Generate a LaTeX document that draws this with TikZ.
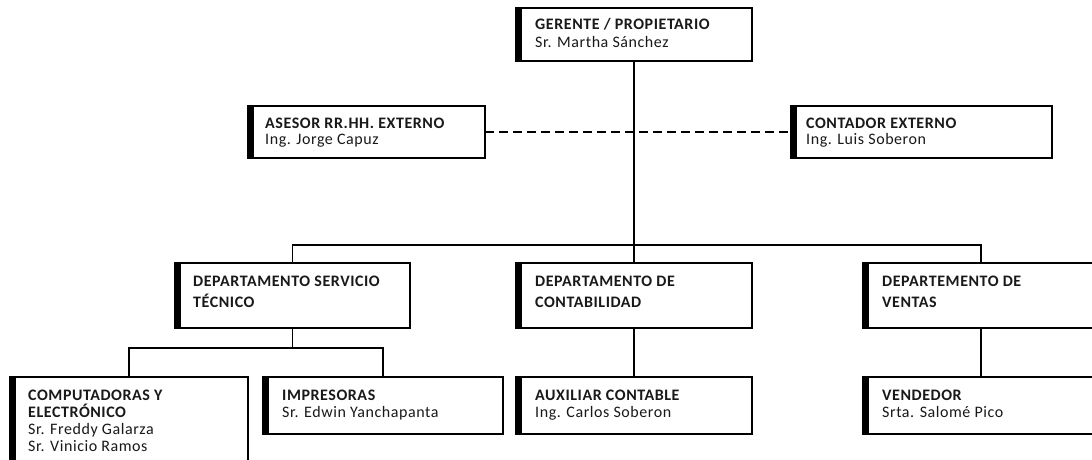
\documentclass[tikz,border=0pt]{standalone}
\usepackage{fontspec}
\setmainfont{Carlito}[LetterSpace=3.5]
% name, left, top, width, height, text inset, first baseline, line skip, lines
\newcommand\orgunit[9]{%
  \node[orgbox, minimum width=#4pt, minimum height=#5pt] (#1) at (#2,#3) {};
  \fill[orgbar] (#1.north west) rectangle ++(5.5,#5);
  \node[orgtxt] (#1-t) at (#2+#6,#3+#7) {\vtop{\baselineskip=#8pt\halign{##\hfil\cr#9\crcr}}};
}
\begin{document}
\begin{tikzpicture}[x=1pt,y=-1pt,
  orgbox/.style={draw=black, line width=1.2pt, fill=white, inner sep=0pt, outer sep=0pt, anchor=north west},
  orgbar/.style={fill=black},
  orgtxt/.style={anchor=base west, inner sep=0pt, text=black!90, font=\fontsize{16}{17}\selectfont},
  link/.style={draw=black, line width=1.2pt},
  extlink/.style={link, dash pattern=on 9pt off 5pt},
]
\useasboundingbox (0,0) rectangle (1092,460);
\fill[white] (0,0) rectangle (1092,460);
\clip (0,0) rectangle (1092,460);

% top level
\orgunit{gerente}{516}{8}{236}{53}{19}{22}{18}{\textbf{GERENTE / PROPIETARIO}\cr Sr. Martha Sánchez}
% external advisors
\orgunit{asesor}{248}{106}{237}{52}{17}{22}{17}{\textbf{ASESOR RR.HH. EXTERNO}\cr Ing. Jorge Capuz}
\orgunit{contador}{791}{106}{261}{52}{15}{22}{17}{\textbf{CONTADOR EXTERNO}\cr Ing. Luis Soberon}
% departments
\orgunit{servicio}{175}{263}{235}{65}{18}{23}{21}{\textbf{DEPARTAMENTO SERVICIO}\cr\textbf{TÉCNICO}}
\orgunit{contab}{516}{263}{236}{65}{19}{23}{21}{\textbf{DEPARTAMENTO DE}\cr\textbf{CONTABILIDAD}}
\orgunit{ventas}{863}{263}{236}{65}{19}{23}{21}{\textbf{DEPARTEMENTO DE}\cr\textbf{VENTAS}}
% staff
\orgunit{comp}{10}{377}{238}{100}{18}{23}{17}{\textbf{COMPUTADORAS Y}\cr\textbf{ELECTRÓNICO}\cr Sr. Freddy Galarza\cr Sr. Vinicio Ramos}
\orgunit{impr}{263}{377}{240}{57}{19}{23}{17}{\textbf{IMPRESORAS}\cr Sr. Edwin Yanchapanta}
\orgunit{aux}{516}{377}{236}{57}{19}{23}{17}{\textbf{AUXILIAR CONTABLE}\cr Ing. Carlos Soberon}
\orgunit{vend}{863}{377}{236}{57}{19}{23}{17}{\textbf{VENDEDOR}\cr Srta. Salomé Pico}

% connectors
\draw[extlink] (asesor.east) -- (contador.west);
\draw[link] (gerente.south) -- (contab.north);
\draw[link] (servicio.north) -- ++(0,-18) -| (ventas.north);
\draw[link] (servicio.south) -- ++(0,20) coordinate (srvbus);
\draw[link] (comp.north) -- ++(0,-29) -| (impr.north);
\draw[link] (contab.south) -- (aux.north);
\draw[link] (ventas.south) -- (vend.north);
\end{tikzpicture}
\end{document}
